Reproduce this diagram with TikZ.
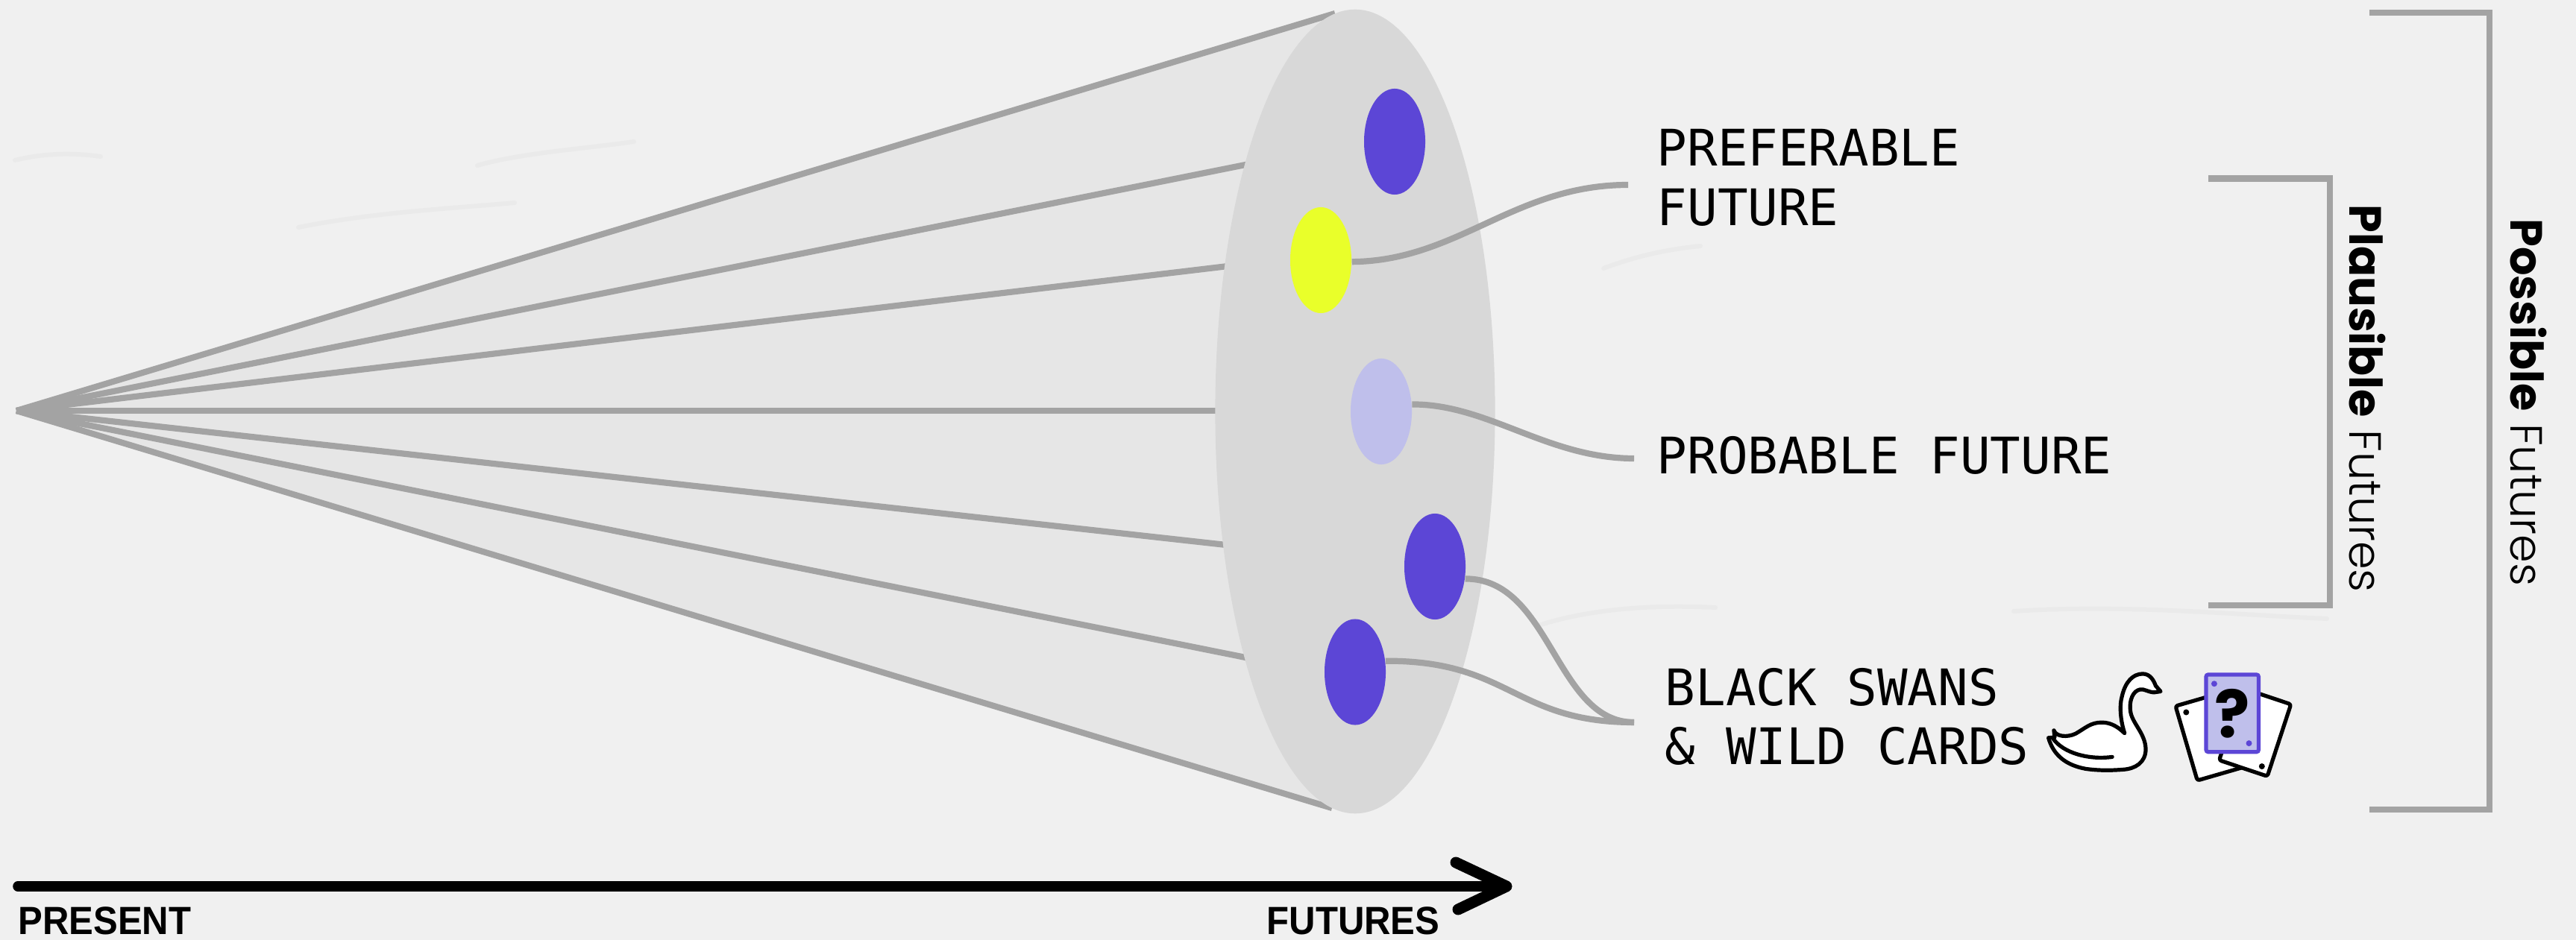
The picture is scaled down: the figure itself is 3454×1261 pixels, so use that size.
\documentclass[tikz,border=0pt]{standalone}
\usepackage{fontspec}
\usetikzlibrary{shapes.geometric,calc}
\newfontfamily\labelfont{DejaVu Sans Mono}
\newfontfamily\axisfont{Liberation Sans}
\newfontfamily\popfont{Poppins}[UprightFont=* Light,BoldFont=* Bold]
\definecolor{bgc}{HTML}{F0F0F0}
\definecolor{wrinkle}{HTML}{EAEAEA}
\definecolor{conefill}{HTML}{E6E6E6}
\definecolor{discfill}{HTML}{D8D8D8}
\definecolor{linegrey}{HTML}{A3A3A3}
\definecolor{brand}{HTML}{5C46D6}
\definecolor{lav}{HTML}{BFBFEB}
\definecolor{lime}{HTML}{E9FF2A}
\tikzset{
  ray/.style={draw=linegrey,line width=0.082cm},
  link/.style={draw=linegrey,line width=0.082cm},
  bracket/.style={draw=linegrey,line width=0.085cm,line join=miter},
  dot/.style={ellipse,draw=none,inner sep=0pt,minimum width=0.82cm,minimum height=1.42cm},
  mono/.style={font=\labelfont\fontsize{19.2pt}{19.2pt}\selectfont,inner sep=0pt,anchor=base west},
  axislabel/.style={font=\axisfont\bfseries\fontsize{15pt}{15pt}\selectfont,inner sep=0pt,anchor=base west,xscale=.93},
  sidelabel/.style={font=\popfont\fontsize{17.2pt}{17.2pt}\selectfont,inner sep=0pt,anchor=base west,rotate=-90},
  wr/.style={draw=wrinkle,line width=0.06cm,line cap=round},
  ink/.style={draw=black,line width=0.052cm,line join=round,line cap=round},
}
\begin{document}
\begin{tikzpicture}[x=0.01cm,y=-0.01cm]
\useasboundingbox (0,0) rectangle (3454,1261);
\fill[bgc] (0,0) rectangle (3454,1261);
% faint paper wrinkles
\draw[wr] (20,215) .. controls (60,205) and (100,205) .. (135,210);
\draw[wr] (400,305) .. controls (500,285) and (600,280) .. (690,272);
\draw[wr] (640,222) .. controls (700,205) and (780,200) .. (850,190);
\draw[wr] (2150,360) .. controls (2190,345) and (2230,335) .. (2280,330);
\draw[wr] (2060,840) .. controls (2120,820) and (2200,810) .. (2300,815);
\draw[wr] (2700,820) .. controls (2850,810) and (3000,825) .. (3120,830);
% cone
\coordinate (apex) at (22,551);
\coordinate (r1) at (1790,18);
\coordinate (r2) at (1700,215);
\coordinate (r3) at (1680,353);
\coordinate (r4) at (1680,551);
\coordinate (r5) at (1680,735);
\coordinate (r6) at (1700,888);
\coordinate (r7) at (1786,1084);
\fill[conefill] (apex) -- (r1) -- (r7) -- cycle;
\foreach \r in {r1,r2,r3,r4,r5,r6,r7} \draw[ray] (apex) -- (\r);
\node[ellipse,fill=discfill,draw=none,inner sep=0pt,minimum width=3.75cm,minimum height=10.78cm] (disc) at (1817,552) {};
% futures
\node[dot,fill=brand] (pA) at (1870,190) {};
\node[dot,fill=lime] (yel) at (1771,349) {};
\node[dot,fill=lav] (lavd) at (1852,552) {};
\node[dot,fill=brand] (pB) at (1924,760) {};
\node[dot,fill=brand] (pC) at (1817,901.5) {};
% labels
\node[mono] (pref1) at (2221,223) {PREFERABLE};
\node[mono] (pref2) at (2221,303) {FUTURE};
\node[mono] (prob) at (2221,635) {PROBABLE FUTURE};
\node[mono] (swan1) at (2232,946) {BLACK SWANS};
\node[mono] (swan2) at (2232,1025) {\&{} WILD CARDS};
% connectors
\coordinate (e1) at (2183,248);
\coordinate (e2) at (2191,615);
\coordinate (e3) at (2191,969);
\draw[link] (yel.357) .. controls (1955,350) and (2030,248) .. (e1);
\draw[link] (lavd.13) .. controls (1995,542) and (2075,615) .. (e2);
\draw[link] (pB.338) .. controls (2080,776) and (2085,969) .. (e3);
\draw[link] (pC.20) .. controls (2025,886) and (2030,969) .. (e3);
% brackets
\coordinate (b1a) at (2961,239.5);
\coordinate (b1b) at (3124,239.5);
\coordinate (b1c) at (3124,812);
\coordinate (b1d) at (2961,812);
\draw[bracket] (b1a) -- (b1b) -- (b1c) -- (b1d);
\coordinate (b2a) at (3177,17);
\coordinate (b2b) at (3338,17);
\coordinate (b2c) at (3338,1086);
\coordinate (b2d) at (3177,1086);
\draw[bracket] (b2a) -- (b2b) -- (b2c) -- (b2d);
\node[sidelabel] (plaus) at (3150,274) {\textbf{Plausible} Futures};
\node[sidelabel] (poss) at (3366,293) {\textbf{Possible} Futures};
% timeline
\coordinate (t0) at (24,1189);
\coordinate (t1) at (2020,1189);
\coordinate (t2) at (1952,1157);
\coordinate (t3) at (1955,1220);
\draw[line width=0.135cm,line cap=round,line join=round] (t0) -- (t1);
\draw[line width=0.15cm,line cap=round,line join=round] (t2) -- (t1) -- (t3);
\node[axislabel] (present) at (24,1253) {PRESENT};
\node[axislabel] (futures) at (1698,1253) {FUTURES};
% swan and cards
\begin{scope}[shift={(2700,850)},x=0.003333cm,y=-0.003333cm]
\path[ink,fill=white] (162,390) .. controls (170,415) and (215,420) .. (250,403) .. controls (290,380) and (310,358) .. (355,358) .. controls (395,358) and (425,380) .. (447,402) .. controls (430,350) and (425,290) .. (437,250) .. controls (450,195) and (480,162) .. (520,162) .. controls (550,162) and (565,190) .. (572,210) -- (592,233) -- (565,237) .. controls (540,235) and (525,222) .. (510,225) .. controls (480,230) and (465,270) .. (470,310) .. controls (475,360) and (530,400) .. (532,465) .. controls (532,520) and (490,545) .. (440,548) .. controls (390,552) and (340,552) .. (290,545) .. controls (210,530) and (160,490) .. (140,420) -- (165,418) -- cycle;
\path[ink] (160,425) .. controls (200,480) and (300,510) .. (397,497);
\path[ink,fill=white,rounded corners=0.03cm] (652,292) -- (740,592) -- (951,531) -- (863,231) -- cycle;
\path[ink,fill=white,rounded corners=0.03cm] (1117,285) -- (1022,575) -- (828,510) -- (923,220) -- cycle;
\fill (695,317) circle[radius=0.04cm];
\fill (1000,535) circle[radius=0.04cm];
\draw[draw=brand,fill=lav,line width=0.052cm,rounded corners=0.03cm] (775,165) rectangle (987,477);
\fill[brand] (808,202) circle[radius=0.04cm];
\fill[brand] (948,442) circle[radius=0.04cm];
\node[font=\popfont\bfseries\fontsize{25pt}{25pt}\selectfont,inner sep=0pt] (qm) at (880,322) {?};
\end{scope}
\end{tikzpicture}
\end{document}
